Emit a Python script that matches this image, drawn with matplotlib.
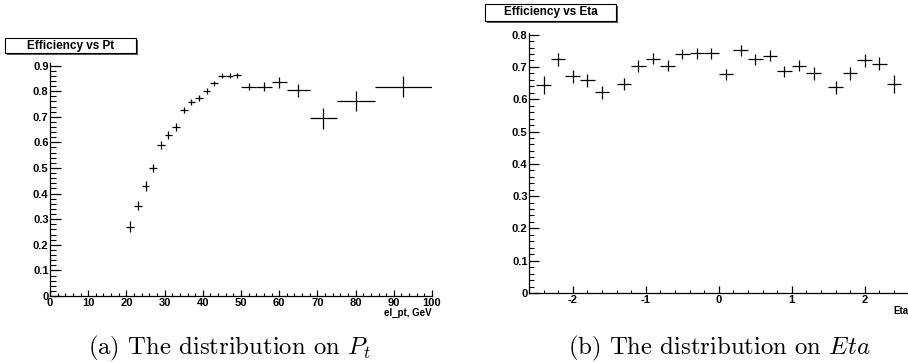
import matplotlib
matplotlib.use("Agg")
import matplotlib.pyplot as plt
from matplotlib.ticker import MultipleLocator, FormatStrFormatter
from matplotlib.patches import Rectangle

# efficiency vs electron pt
pt_x = [21, 23, 25, 27, 29, 31, 33, 35, 37, 39, 41, 43, 45, 47, 49,
        52, 56, 60, 65, 71.5, 80, 92.5]
pt_xerr = [1] * 15 + [2, 2, 2, 3, 3.5, 5, 7.5]
pt_eff = [0.271, 0.353, 0.430, 0.500, 0.590, 0.629, 0.660, 0.727, 0.757, 0.773,
          0.800, 0.830, 0.860, 0.860, 0.862, 0.818, 0.818, 0.835, 0.803, 0.694,
          0.760, 0.818]
pt_err = [0.020, 0.018, 0.018, 0.017, 0.016, 0.015, 0.015, 0.013, 0.012, 0.012,
          0.011, 0.010, 0.009, 0.009, 0.009, 0.012, 0.016, 0.022, 0.026, 0.040,
          0.039, 0.042]

# efficiency vs electron eta
eta_x = [-2.4, -2.2, -2.0, -1.8, -1.6, -1.3, -1.1, -0.9, -0.7, -0.5, -0.3, -0.1,
         0.1, 0.3, 0.5, 0.7, 0.9, 1.1, 1.3, 1.6, 1.8, 2.0, 2.2, 2.4]
eta_eff = [0.643, 0.723, 0.671, 0.658, 0.621, 0.647, 0.702, 0.726, 0.704, 0.740,
           0.743, 0.743, 0.677, 0.751, 0.723, 0.735, 0.686, 0.704, 0.681, 0.637,
           0.680, 0.720, 0.710, 0.648]
eta_err = [0.028, 0.020, 0.020, 0.020, 0.020, 0.020, 0.018, 0.018, 0.018, 0.017,
           0.017, 0.017, 0.017, 0.017, 0.017, 0.018, 0.018, 0.018, 0.020, 0.020,
           0.020, 0.020, 0.020, 0.028]
eta_xerr = [0.1] * len(eta_x)

plt.rcParams["font.family"] = "Liberation Sans"
plt.rcParams["font.weight"] = "bold"
plt.rcParams["axes.unicode_minus"] = False
plt.rcParams["mathtext.fontset"] = "cm"

W, H = 908, 362
fig = plt.figure(figsize=(W / 100, H / 100), dpi=100)


def px_axes(x0, x1, y0, y1):
    # pixel box (left, right, bottom, top) -> figure axes
    return fig.add_axes([x0 / W, 1 - y0 / H, (x1 - x0) / W, (y0 - y1) / H])


def root_style(ax, ymaj_len, xmaj_len):
    for s in ("top", "right"):
        ax.spines[s].set_visible(False)
    for s in ("left", "bottom"):
        ax.spines[s].set_linewidth(0.9)
    ax.tick_params(axis="y", which="major", direction="in", length=ymaj_len,
                   width=0.9, labelsize=8, pad=1)
    ax.tick_params(axis="y", which="minor", direction="in", length=ymaj_len / 2,
                   width=0.8)
    ax.tick_params(axis="x", which="major", direction="in", length=xmaj_len,
                   width=0.9, labelsize=8, pad=1.5)
    ax.tick_params(axis="x", which="minor", direction="in", length=xmaj_len / 2,
                   width=0.8)
    ax.yaxis.set_major_locator(MultipleLocator(0.1))
    ax.yaxis.set_minor_locator(MultipleLocator(0.02))
    ax.yaxis.set_major_formatter(FormatStrFormatter("%g"))


def title_box(x0, y0, x1, y1, text):
    fig.patches.append(Rectangle((x0 / W + 2 / W, 1 - y1 / H - 2 / H),
                                 (x1 - x0) / W, (y1 - y0) / H,
                                 transform=fig.transFigure, facecolor="#555555",
                                 edgecolor="none", zorder=1))
    fig.patches.append(Rectangle((x0 / W, 1 - y1 / H), (x1 - x0) / W, (y1 - y0) / H,
                                 transform=fig.transFigure, facecolor="white",
                                 edgecolor="black", linewidth=0.8, zorder=2))
    fig.text((x0 + x1) / 2 / W, 1 - (y0 + y1) / 2 / H, text, ha="center",
             va="center", fontsize=8.5, fontweight="bold", zorder=3)


# left panel
ax1 = px_axes(50, 432, 296, 63)
ax1.errorbar(pt_x, pt_eff, xerr=pt_xerr, yerr=pt_err, fmt="none",
             ecolor="black", elinewidth=0.9, capsize=0)
ax1.set_xlim(0, 100)
ax1.set_ylim(0, 0.91)
root_style(ax1, 8, 4.5)
ax1.xaxis.set_major_locator(MultipleLocator(10))
ax1.xaxis.set_minor_locator(MultipleLocator(2))
fig.text(432 / W, 1 - 308 / H, "el_pt, GeV", ha="right", va="top", fontsize=7,
         fontweight="bold")
title_box(5, 38, 136, 53, "Efficiency vs Pt")

# right panel
ax2 = px_axes(529, 908.5, 293, 33)
ax2.errorbar(eta_x, eta_eff, xerr=eta_xerr, yerr=eta_err, fmt="none",
             ecolor="black", elinewidth=0.9, capsize=0)
ax2.set_xlim(-2.6, 2.6)
ax2.set_ylim(0, 0.805)
root_style(ax2, 7.5, 5)
ax2.xaxis.set_major_locator(MultipleLocator(1))
ax2.xaxis.set_minor_locator(MultipleLocator(0.2))
ax2.xaxis.set_major_formatter(FormatStrFormatter("%g"))
fig.text(893 / W, 1 - 306 / H, "Eta", ha="left", va="top", fontsize=7,
         fontweight="bold")
title_box(485, 4, 616, 21, "Efficiency vs Eta")

# captions
cap = dict(fontsize=17.8, fontweight="normal", family="cmr10", va="baseline",
           ha="center")
fig.text(229.5 / W, 1 - 354 / H, "(a) The distribution on $P_t$", **cap)
fig.text(719 / W, 1 - 354 / H, "(b) The distribution on $Eta$", **cap)

fig.savefig("out.png", dpi=100)
